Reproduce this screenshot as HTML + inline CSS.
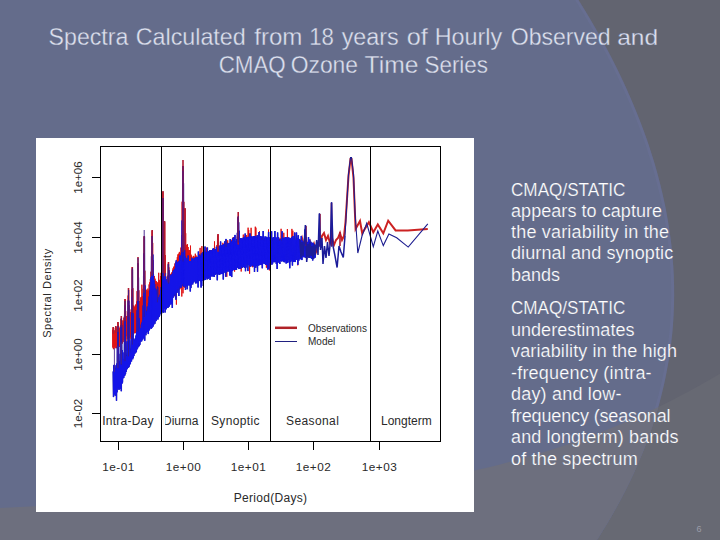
<!DOCTYPE html>
<html><head><meta charset="utf-8"><style>
html,body{margin:0;padding:0;width:720px;height:540px;overflow:hidden;background:#626470}
svg{display:block}
</style></head><body>
<svg width="720" height="540" viewBox="0 0 720 540">

<defs><clipPath id="ca"><path d="M-10.0,508.7 L0.0,508.1 L10.0,507.5 L20.0,507.0 L30.0,506.6 L40.0,506.1 L50.0,505.7 L60.0,505.3 L70.0,505.0 L80.0,504.6 L90.0,504.3 L100.0,504.0 L110.0,503.7 L120.0,503.4 L130.0,503.1 L140.0,502.8 L150.0,502.5 L160.0,502.2 L170.0,501.9 L180.0,501.6 L190.0,501.2 L200.0,500.8 L210.0,500.5 L220.0,500.0 L230.0,499.6 L240.0,499.1 L250.0,498.6 L260.0,498.0 L270.0,497.4 L280.0,496.8 L290.0,496.1 L300.0,495.4 L310.0,494.6 L320.0,493.7 L330.0,492.8 L340.0,491.8 L350.0,490.7 L360.0,489.6 L370.0,488.4 L380.0,487.1 L390.0,485.8 L400.0,484.3 L410.0,482.8 L420.0,481.1 L430.0,479.4 L440.0,477.6 L450.0,475.7 L460.0,473.7 L470.0,471.5 L480.0,469.3 L490.0,466.9 L500.0,464.4 L510.0,461.8 L520.0,459.1 L530.0,456.3 L540.0,453.3 L550.0,450.2 L560.0,446.9 L570.0,443.6 L580.0,440.0 L590.0,436.3 L600.0,432.5 L610.0,428.5 L620.0,424.4 L630.0,420.1 L640.0,415.6 L650.0,411.0 L660.0,406.2 L670.0,401.3 L680.0,396.1 L690.0,390.8 L700.0,385.3 L710.0,379.6 L720.0,373.7 L730.0,367.7 L730,550 L-10,550 Z"/></clipPath></defs>
<rect width="720" height="540" fill="#626470"/>
<path d="M-10.0,508.7 L0.0,508.1 L10.0,507.5 L20.0,507.0 L30.0,506.6 L40.0,506.1 L50.0,505.7 L60.0,505.3 L70.0,505.0 L80.0,504.6 L90.0,504.3 L100.0,504.0 L110.0,503.7 L120.0,503.4 L130.0,503.1 L140.0,502.8 L150.0,502.5 L160.0,502.2 L170.0,501.9 L180.0,501.6 L190.0,501.2 L200.0,500.8 L210.0,500.5 L220.0,500.0 L230.0,499.6 L240.0,499.1 L250.0,498.6 L260.0,498.0 L270.0,497.4 L280.0,496.8 L290.0,496.1 L300.0,495.4 L310.0,494.6 L320.0,493.7 L330.0,492.8 L340.0,491.8 L350.0,490.7 L360.0,489.6 L370.0,488.4 L380.0,487.1 L390.0,485.8 L400.0,484.3 L410.0,482.8 L420.0,481.1 L430.0,479.4 L440.0,477.6 L450.0,475.7 L460.0,473.7 L470.0,471.5 L480.0,469.3 L490.0,466.9 L500.0,464.4 L510.0,461.8 L520.0,459.1 L530.0,456.3 L540.0,453.3 L550.0,450.2 L560.0,446.9 L570.0,443.6 L580.0,440.0 L590.0,436.3 L600.0,432.5 L610.0,428.5 L620.0,424.4 L630.0,420.1 L640.0,415.6 L650.0,411.0 L660.0,406.2 L670.0,401.3 L680.0,396.1 L690.0,390.8 L700.0,385.3 L710.0,379.6 L720.0,373.7 L730.0,367.7 L730,550 L-10,550 Z" fill="#676973"/>
<path d="M-10,-10 L572.1,-10.0 L575.3,-5.0 L578.4,0.0 L581.5,5.0 L584.6,10.0 L587.6,15.0 L590.6,20.0 L593.5,25.0 L596.4,30.0 L599.2,35.0 L602.0,40.0 L604.7,45.0 L607.4,50.0 L610.0,55.0 L612.6,60.0 L615.1,65.0 L617.6,70.0 L620.0,75.0 L622.4,80.0 L624.7,85.0 L627.0,90.0 L629.2,95.0 L631.4,100.0 L633.5,105.0 L635.6,110.0 L637.6,115.0 L639.6,120.0 L641.5,125.0 L643.4,130.0 L645.2,135.0 L647.0,140.0 L648.7,145.0 L650.3,150.0 L651.9,155.0 L653.5,160.0 L655.0,165.0 L656.4,170.0 L657.8,175.0 L659.1,180.0 L660.4,185.0 L661.6,190.0 L662.8,195.0 L663.9,200.0 L665.0,205.0 L666.0,210.0 L666.9,215.0 L667.8,220.0 L668.6,225.0 L669.4,230.0 L670.1,235.0 L670.8,240.0 L671.4,245.0 L671.9,250.0 L672.4,255.0 L672.8,260.0 L673.2,265.0 L673.5,270.0 L673.8,275.0 L673.9,280.0 L674.1,285.0 L674.1,290.0 L674.2,295.0 L674.1,300.0 L674.0,305.0 L673.8,310.0 L673.6,315.0 L673.3,320.0 L673.0,325.0 L672.6,330.0 L672.1,335.0 L671.5,340.0 L671.0,345.0 L670.3,350.0 L669.6,355.0 L668.8,360.0 L667.9,365.0 L667.0,370.0 L666.0,375.0 L665.0,380.0 L663.9,385.0 L662.7,390.0 L661.5,395.0 L660.2,400.0 L658.9,405.0 L657.4,410.0 L655.9,415.0 L654.4,420.0 L652.8,425.0 L651.1,430.0 L649.3,435.0 L647.5,440.0 L645.6,445.0 L643.7,450.0 L641.6,455.0 L639.6,460.0 L637.4,465.0 L635.2,470.0 L632.9,475.0 L630.5,480.0 L628.1,485.0 L625.6,490.0 L623.0,495.0 L620.4,500.0 L617.7,505.0 L614.9,510.0 L612.1,515.0 L609.2,520.0 L606.2,525.0 L603.1,530.0 L600.0,535.0 L596.8,540.0 L593.6,545.0 L590.2,550.0 L-10,550 Z" fill="#646c8b"/>
<path d="M570.6,-10.0 L573.8,-5.0 L576.9,0.0 L580.0,5.0 L583.1,10.0 L586.1,15.0 L589.1,20.0 L592.0,25.0 L594.9,30.0 L597.7,35.0 L600.5,40.0 L603.2,45.0 L605.9,50.0 L608.5,55.0 L611.1,60.0 L613.6,65.0 L616.1,70.0 L618.5,75.0 L620.9,80.0 L623.2,85.0 L625.5,90.0 L627.7,95.0 L629.9,100.0 L632.0,105.0 L634.1,110.0 L636.1,115.0 L638.1,120.0 L640.0,125.0 L641.9,130.0 L643.7,135.0 L645.5,140.0 L647.2,145.0 L648.8,150.0 L650.4,155.0 L652.0,160.0 L653.5,165.0 L654.9,170.0 L656.3,175.0 L657.6,180.0 L658.9,185.0 L660.1,190.0 L661.3,195.0 L662.4,200.0 L663.5,205.0 L664.5,210.0 L665.4,215.0 L666.3,220.0 L667.1,225.0 L667.9,230.0 L668.6,235.0 L669.3,240.0 L669.9,245.0 L670.4,250.0 L670.9,255.0 L671.3,260.0 L671.7,265.0 L672.0,270.0 L672.3,275.0 L672.4,280.0 L672.6,285.0 L672.6,290.0 L672.7,295.0 L672.6,300.0 L672.5,305.0 L672.3,310.0 L672.1,315.0 L671.8,320.0 L671.5,325.0 L671.1,330.0 L670.6,335.0 L670.0,340.0 L669.5,345.0 L668.8,350.0 L668.1,355.0 L667.3,360.0 L666.4,365.0 L665.5,370.0 L664.5,375.0 L663.5,380.0 L662.4,385.0 L661.2,390.0 L660.0,395.0 L658.7,400.0 L657.4,405.0 L655.9,410.0 L654.4,415.0 L652.9,420.0 L651.3,425.0 L649.6,430.0 L647.8,435.0 L646.0,440.0 L644.1,445.0 L642.2,450.0 L640.1,455.0 L638.1,460.0 L635.9,465.0 L633.7,470.0 L631.4,475.0 L629.0,480.0 L626.6,485.0 L624.1,490.0 L621.5,495.0 L618.9,500.0 L616.2,505.0 L613.4,510.0 L610.6,515.0 L607.7,520.0 L604.7,525.0 L601.6,530.0 L598.5,535.0 L595.3,540.0 L592.1,545.0 L588.7,550.0" fill="none" stroke="#6a7298" stroke-width="3" opacity="0.45"/>
<path d="M-10,-10 L572.1,-10.0 L575.3,-5.0 L578.4,0.0 L581.5,5.0 L584.6,10.0 L587.6,15.0 L590.6,20.0 L593.5,25.0 L596.4,30.0 L599.2,35.0 L602.0,40.0 L604.7,45.0 L607.4,50.0 L610.0,55.0 L612.6,60.0 L615.1,65.0 L617.6,70.0 L620.0,75.0 L622.4,80.0 L624.7,85.0 L627.0,90.0 L629.2,95.0 L631.4,100.0 L633.5,105.0 L635.6,110.0 L637.6,115.0 L639.6,120.0 L641.5,125.0 L643.4,130.0 L645.2,135.0 L647.0,140.0 L648.7,145.0 L650.3,150.0 L651.9,155.0 L653.5,160.0 L655.0,165.0 L656.4,170.0 L657.8,175.0 L659.1,180.0 L660.4,185.0 L661.6,190.0 L662.8,195.0 L663.9,200.0 L665.0,205.0 L666.0,210.0 L666.9,215.0 L667.8,220.0 L668.6,225.0 L669.4,230.0 L670.1,235.0 L670.8,240.0 L671.4,245.0 L671.9,250.0 L672.4,255.0 L672.8,260.0 L673.2,265.0 L673.5,270.0 L673.8,275.0 L673.9,280.0 L674.1,285.0 L674.1,290.0 L674.2,295.0 L674.1,300.0 L674.0,305.0 L673.8,310.0 L673.6,315.0 L673.3,320.0 L673.0,325.0 L672.6,330.0 L672.1,335.0 L671.5,340.0 L671.0,345.0 L670.3,350.0 L669.6,355.0 L668.8,360.0 L667.9,365.0 L667.0,370.0 L666.0,375.0 L665.0,380.0 L663.9,385.0 L662.7,390.0 L661.5,395.0 L660.2,400.0 L658.9,405.0 L657.4,410.0 L655.9,415.0 L654.4,420.0 L652.8,425.0 L651.1,430.0 L649.3,435.0 L647.5,440.0 L645.6,445.0 L643.7,450.0 L641.6,455.0 L639.6,460.0 L637.4,465.0 L635.2,470.0 L632.9,475.0 L630.5,480.0 L628.1,485.0 L625.6,490.0 L623.0,495.0 L620.4,500.0 L617.7,505.0 L614.9,510.0 L612.1,515.0 L609.2,520.0 L606.2,525.0 L603.1,530.0 L600.0,535.0 L596.8,540.0 L593.6,545.0 L590.2,550.0 L-10,550 Z" fill="#6d6f7e" clip-path="url(#ca)"/>


<rect x="36" y="138" width="438" height="374" fill="#fff"/>
<path d="M112.50,329.7 112.80,347.6 113.10,327.4 113.40,349.2 113.70,328.0 114.00,348.1 114.30,330.3 114.60,347.5 114.90,331.1 115.20,346.3 115.50,326.8 115.80,348.2 116.10,326.7 116.40,348.2 116.70,328.9 117.00,344.7 117.30,327.5 117.60,346.2 117.90,322.1 118.20,347.3 118.50,324.8 118.80,346.9 119.10,327.6 119.40,346.7 119.70,328.7 120.00,344.3 120.30,326.4 120.60,341.4 120.90,318.9 121.20,341.6 121.50,316.5 121.80,343.4 122.10,320.3 122.40,343.5 122.70,323.5 123.00,341.8 123.30,320.7 123.60,340.1 123.90,317.6 124.20,342.1 124.50,307.9 124.80,338.5 125.10,299.4 125.40,344.4 125.70,311.0 126.00,350.6 126.30,316.3 126.60,336.2 126.90,316.1 127.20,339.3 127.50,312.1 127.80,338.5 128.10,295.5 128.40,337.8 128.70,290.0 129.00,343.7 129.30,305.3 129.60,338.0 129.90,312.9 130.20,336.8 130.50,312.1 130.80,338.9 131.10,309.4 131.40,332.8 131.70,289.4 132.00,335.6 132.30,267.0 132.60,334.3 132.90,288.1 133.20,335.2 133.50,305.6 133.80,334.0 134.10,307.4 134.40,333.0 134.70,306.5 135.00,332.9 135.30,305.2 135.60,333.1 135.90,304.3 136.20,332.2 136.50,301.5 136.80,332.9 137.10,291.1 137.40,331.3 137.70,263.7 138.00,330.7 138.30,263.6 138.60,330.4 138.90,290.3 139.20,330.5 139.50,301.2 139.80,330.8 140.10,301.7 140.40,328.8 140.70,297.5 141.00,326.7 141.30,296.8 141.60,336.6 141.90,284.7 142.20,326.1 142.50,296.1 142.80,327.1 143.10,288.8 143.40,328.2 143.70,257.5 144.00,326.1 144.30,237.1 144.60,326.4 144.90,270.7 145.20,326.4 145.50,290.0 145.80,325.6 146.10,292.0 146.40,333.0 146.70,289.7 147.00,324.7 147.30,290.9 147.60,324.3 147.90,288.6 148.20,324.0 148.50,290.6 148.80,329.5 149.10,284.4 149.40,321.5 149.70,282.3 150.00,321.5 150.30,279.1 150.60,320.2 150.90,271.7 151.20,320.7 151.50,251.4 151.80,318.9 152.10,230.6 152.40,319.4 152.70,242.9 153.00,318.2 153.30,260.2 153.60,318.3 153.90,276.0 154.20,315.5 154.50,276.0 154.80,316.5 155.10,278.7 155.40,314.8 155.70,281.0 156.00,314.2 156.30,281.1 156.60,316.0 156.90,282.7 157.20,315.4 157.50,282.5 157.80,314.7 158.10,283.7 158.40,312.2 158.70,272.8 159.00,312.3 159.30,280.4 159.60,312.5 159.90,279.8 160.20,312.2 160.50,276.0 160.80,311.1 161.10,272.8 161.40,309.7 161.70,264.6 162.00,309.3 162.30,230.8 162.60,309.8 162.90,192.1 163.20,306.6 163.50,214.7 163.80,308.5 164.10,241.5 164.40,306.4 164.70,222.1 165.00,306.4 165.30,255.1 165.60,304.4 165.90,276.5 166.20,301.8 166.50,281.4 166.80,303.5 167.10,279.3 167.40,304.2 167.70,275.6 168.00,302.4 168.30,263.6 168.60,298.9 168.90,267.3 169.20,301.8 169.50,277.1 169.80,301.5 170.10,275.6 170.40,296.6 170.70,274.1 171.00,297.6 171.30,273.3 171.60,298.7 171.90,272.2 172.20,296.4 172.50,269.8 172.80,294.7 173.10,268.2 173.40,296.9 173.70,266.8 174.00,295.3 174.30,266.3 174.60,296.2 174.90,263.5 175.20,293.2 175.50,262.1 175.80,294.6 176.10,262.4 176.40,304.6 176.70,259.9 177.00,291.3 177.30,257.2 177.60,290.4 177.90,254.4 178.20,287.5 178.50,254.2 178.80,290.0 179.10,252.7 179.40,288.6 179.70,251.9 180.00,289.2 180.30,253.2 180.60,286.5 180.90,247.6 181.20,286.5 181.50,235.3 181.80,296.5 182.10,201.7 182.40,285.6 182.70,166.0 183.00,293.3 183.30,166.0 183.60,283.7 183.90,201.8 184.20,284.9 184.50,223.5 184.80,287.8 185.10,208.8 185.40,282.3 185.70,233.2 186.00,283.1 186.30,244.7 186.60,283.5 186.90,246.9 187.20,283.1 187.50,244.2 187.80,282.5 188.10,247.0 188.40,281.9 188.70,250.3 189.00,278.2 189.30,250.0 189.60,279.8 189.90,253.4 190.20,280.9 190.50,245.6 190.80,286.6 191.10,254.7 191.40,278.8 191.70,255.9 192.00,279.5 192.30,257.5 192.60,279.3 192.90,259.8 193.20,278.5 193.50,255.9 193.80,278.3 194.10,258.0 194.40,277.7 194.70,256.7 195.00,274.8 195.30,253.7 195.60,276.3 195.90,255.3 196.20,277.1 196.50,256.6 196.80,277.4 197.10,257.6 197.40,276.9 197.70,256.8 198.00,275.6 198.30,256.7 198.60,280.1 198.90,254.3 199.20,275.8 199.50,254.2 199.80,275.4 200.10,247.9 200.40,277.4 200.70,255.4 201.00,281.0 201.30,253.8 201.60,275.4 201.90,246.1 202.20,274.2 202.50,253.6 202.80,274.7 203.10,253.4 203.40,272.9 203.70,252.8 204.00,273.3 204.30,253.0 204.60,273.9 204.90,250.4 205.20,274.3 205.50,252.7 205.80,274.0 206.10,253.4 206.40,269.4 206.70,247.6 207.00,271.7 207.30,252.2 207.60,273.4 207.90,252.6 208.20,272.3 208.50,252.1 208.80,272.8 209.10,252.0 209.40,271.2 209.70,251.8 210.00,272.3 210.30,250.6 210.60,271.7 210.90,250.6 211.20,270.9 211.50,250.1 211.80,272.0 212.10,250.1 212.40,271.5 212.70,251.9 213.00,269.2 213.30,251.7 213.60,270.1 213.90,250.8 214.20,270.9 214.50,241.4 214.80,271.2 215.10,249.7 215.40,271.0 215.70,249.8 216.00,271.1 216.30,250.0 216.60,270.3 216.90,245.1 217.20,268.7 217.50,235.7 217.80,269.9 218.10,234.4 218.40,270.0 218.70,245.5 219.00,268.1 219.30,248.3 219.60,268.9 219.90,249.7 220.20,267.8 220.50,247.4 220.80,267.6 221.10,248.1 221.40,268.9 221.70,249.2 222.00,268.5 222.30,247.2 222.60,268.6 222.90,242.8 223.20,267.6 223.50,248.4 223.80,267.8 224.10,248.7 224.40,266.2 224.70,249.0 225.00,267.5 225.30,245.4 225.60,266.8 225.90,243.0 226.20,264.4 226.50,245.3 226.80,276.8 227.10,244.8 227.40,266.3 227.70,240.3 228.00,266.5 228.30,245.0 228.60,267.4 228.90,248.9 229.20,267.0 229.50,244.5 229.80,266.2 230.10,245.1 230.40,267.0 230.70,246.9 231.00,266.4 231.30,240.7 231.60,263.8 231.90,239.8 232.20,266.7 232.50,247.5 232.80,265.7 233.10,237.1 233.40,266.4 233.70,238.1 234.00,265.8 234.30,242.6 234.60,271.6 234.90,243.7 235.20,264.3 235.50,241.6 235.80,265.1 236.10,244.7 236.40,265.7 236.70,241.0 237.00,265.5 237.30,236.6 237.60,264.5 237.90,216.9 238.20,263.2 238.50,216.8 238.80,264.3 239.10,236.1 239.40,264.6 239.70,240.4 240.00,263.1 240.30,240.8 240.60,262.9 240.90,241.8 241.20,271.5 241.50,241.7 241.80,264.0 242.10,240.4 242.40,264.1 242.70,243.4 243.00,264.0 243.30,234.6 243.60,260.5 243.90,239.9 244.20,262.9 244.50,240.0 244.80,262.4 245.10,235.9 245.40,258.9 245.70,241.0 246.00,262.7 246.30,235.1 246.60,261.2 246.90,240.1 247.20,263.0 247.50,239.3 247.80,263.3 248.10,227.7 248.40,260.2 248.70,230.0 249.00,262.4 249.30,239.7 249.60,273.7 249.90,233.5 250.20,262.6 250.50,236.0 250.80,262.0 251.10,227.8 251.40,262.5 251.70,239.4 252.00,262.6 252.30,240.7 252.60,267.2 252.90,237.9 253.20,259.5 253.50,239.6 253.80,262.2 254.10,238.4 254.40,260.3 254.70,239.5 255.00,258.3 255.30,226.7 255.60,261.2 255.90,227.7 256.20,261.7 256.50,240.0 256.80,262.2 257.10,239.0 257.40,261.0 257.70,238.3 258.00,261.3 258.30,237.8 258.60,260.6 258.90,240.4 259.20,260.7 259.50,231.2 259.80,261.8 260.10,238.8 260.40,259.8 260.70,239.4 261.00,261.3 261.30,239.7 261.60,261.7 261.90,239.4 262.20,261.0 262.50,241.0 262.80,260.4 263.10,238.7 263.40,260.7 263.70,241.2 264.00,260.1 264.30,238.7 264.60,259.5 264.90,240.3 265.20,258.5 265.50,238.6 265.80,259.7 266.10,239.7 266.40,267.7 266.70,240.4 267.00,260.2 267.30,240.6 267.60,257.9 267.90,241.3 268.20,258.6 268.50,229.5 268.80,260.2 269.10,239.2 269.40,270.4 269.70,239.5 270.00,259.7 270.30,241.3 270.60,259.9 270.90,243.0 271.20,258.0 271.50,241.7 271.80,259.8 272.10,240.9 272.55,260.7 273.00,239.5 273.45,259.3 273.90,239.6 274.35,259.8 274.80,238.8 275.25,260.2 275.70,239.2 276.15,260.1 276.60,239.8 277.05,258.6 277.50,234.4 277.95,258.4 278.40,239.8 278.85,258.6 279.30,238.7 279.75,256.2 280.20,238.3 280.65,259.5 281.10,228.8 281.55,256.6 282.00,240.9 282.45,257.2 282.90,238.1 283.35,259.4 283.80,232.8 284.25,257.0 284.70,238.3 285.15,258.5 285.60,238.1 286.05,258.9 286.50,238.8 286.95,259.0 287.40,229.0 287.85,257.3 288.30,239.8 288.75,258.8 289.20,240.3 289.65,258.2 290.10,238.5 290.55,258.5 291.00,237.8 291.45,255.9 291.90,228.9 292.35,259.0 292.80,230.7 293.25,256.6 293.70,239.5 294.15,258.3 294.60,240.0 295.05,258.3 295.50,240.5 295.95,256.4 296.40,241.2 296.85,255.5 297.30,240.2 297.75,265.3 298.20,239.2 298.65,255.6 299.10,239.3 299.55,254.2" stroke="#e01414" stroke-width="1" fill="none"/>
<path d="M300.0,244.0 L302.0,238.0 L304.0,246.0 L306.0,240.0 L308.0,248.0 L310.0,242.0 L312.0,250.0 L314.0,244.0 L316.0,252.0 L318.0,246.0 L320.0,244.0 L322.0,236.0 L324.0,233.0 L326.0,240.0 L328.0,236.0 L330.0,243.0 L332.0,238.0 L334.0,245.0 L336.0,240.0 L338.0,238.0 L340.0,233.0 L342.0,240.0 L344.0,236.0 L345.5,222.0 L348.5,176.0 L350.5,159.0 L351.5,159.0 L353.5,178.0 L355.6,229.0 L360.0,221.0 L362.2,233.3 L368.9,222.2 L373.3,232.2 L377.8,224.4 L383.3,233.3 L388.2,220.7 L395.6,230.4 L407.8,230.4 L427.8,228.9" stroke="#cc2222" stroke-width="2" fill="none" stroke-linejoin="miter"/>
<path d="M113.20,371.4 113.50,397.1 113.80,365.3 114.10,394.2 114.40,364.7 114.70,394.2 115.00,365.3 115.30,395.7 115.60,369.4 115.90,393.9 116.20,367.7 116.50,400.7 116.80,363.6 117.10,392.3 117.40,346.6 117.70,388.2 118.00,326.0 118.30,387.6 118.60,346.0 118.90,389.8 119.20,361.4 119.50,389.3 119.80,364.6 120.10,388.7 120.40,353.8 120.70,385.3 121.00,325.1 121.30,391.2 121.60,325.0 121.90,383.8 122.20,350.1 122.50,382.5 122.80,359.9 123.10,378.2 123.40,359.3 123.70,378.1 124.00,352.4 124.30,376.1 124.60,315.7 124.90,375.4 125.20,305.4 125.50,374.0 125.80,341.3 126.10,371.9 126.40,356.1 126.70,369.6 127.00,359.3 127.30,368.8 127.60,341.5 127.90,366.8 128.20,300.5 128.50,367.7 128.80,300.7 129.10,366.7 129.40,340.3 129.70,364.8 130.00,348.8 130.30,364.0 130.60,352.5 130.90,361.2 131.20,338.9 131.50,361.4 131.80,297.2 132.10,359.0 132.40,269.5 132.70,359.3 133.00,313.3 133.30,357.7 133.60,338.8 133.90,355.9 134.20,340.9 134.50,353.5 134.80,339.7 135.10,353.4 135.40,338.2 135.70,352.2 136.00,335.5 136.30,352.3 136.60,332.0 136.90,349.4 137.20,310.2 137.50,348.4 137.80,263.4 138.10,347.3 138.40,277.4 138.70,343.0 139.00,318.3 139.30,346.2 139.60,329.1 139.90,344.8 140.20,328.2 140.50,341.2 140.80,328.2 141.10,341.6 141.40,324.4 141.70,341.2 142.00,322.6 142.30,339.6 142.60,320.4 142.90,339.3 143.20,305.5 143.50,337.8 143.80,253.5 144.10,337.7 144.40,236.4 144.70,340.8 145.00,285.4 145.30,334.7 145.60,306.4 145.90,335.2 146.20,315.3 146.50,332.7 146.80,311.4 147.10,331.7 147.40,310.4 147.70,332.0 148.00,306.5 148.30,334.1 148.60,303.0 148.90,330.7 149.20,296.6 149.50,329.8 149.80,290.5 150.10,325.6 150.40,285.3 150.70,328.3 151.00,277.4 151.30,328.8 151.60,256.3 151.90,328.1 152.20,236.0 152.50,326.2 152.80,254.6 153.10,326.6 153.40,274.5 153.70,324.7 154.00,280.2 154.30,320.6 154.60,284.0 154.90,323.7 155.20,288.3 155.50,321.2 155.80,291.2 156.10,321.1 156.40,294.8 156.70,319.2 157.00,289.0 157.30,318.6 157.60,287.0 157.90,319.6 158.20,297.4 158.50,317.5 158.80,299.7 159.10,316.9 159.40,297.0 159.70,315.5 160.00,294.8 160.30,313.7 160.60,290.2 160.90,311.3 161.20,287.1 161.50,313.9 161.80,274.5 162.10,312.2 162.40,236.4 162.70,310.7 163.00,198.0 163.30,312.7 163.60,238.2 163.90,308.6 164.20,270.7 164.50,307.6 164.80,276.1 165.10,312.5 165.40,273.1 165.70,309.8 166.00,279.2 166.30,309.0 166.60,281.2 166.90,307.9 167.20,282.0 167.50,307.5 167.80,276.6 168.10,307.8 168.40,264.3 168.70,305.0 169.00,270.3 169.30,306.6 169.60,276.9 169.90,305.0 170.20,275.2 170.50,303.6 170.80,275.9 171.10,300.0 171.40,274.4 171.70,304.3 172.00,275.6 172.30,307.9 172.60,273.4 172.90,296.9 173.20,271.2 173.50,297.5 173.80,270.1 174.10,295.8 174.40,269.7 174.70,293.3 175.00,268.8 175.30,294.4 175.60,263.1 175.90,299.7 176.20,260.4 176.50,291.7 176.80,263.8 177.10,292.8 177.40,262.6 177.70,289.0 178.00,262.0 178.30,288.8 178.60,261.1 178.90,296.0 179.20,263.2 179.50,285.9 179.80,255.6 180.10,287.8 180.40,260.8 180.70,285.5 181.00,255.6 181.30,287.4 181.60,253.4 181.90,285.9 182.20,220.4 182.50,284.1 182.80,171.1 183.10,283.1 183.40,183.2 183.70,286.8 184.00,235.8 184.30,286.1 184.60,248.4 184.90,286.0 185.20,256.6 185.50,289.9 185.80,258.1 186.10,286.0 186.40,257.9 186.70,286.3 187.00,259.8 187.30,289.2 187.60,260.4 187.90,284.9 188.20,255.5 188.50,285.2 188.80,261.4 189.10,285.4 189.40,261.7 189.70,285.2 190.00,261.1 190.30,291.5 190.60,261.2 190.90,288.1 191.20,261.8 191.50,284.5 191.80,257.8 192.10,284.1 192.40,259.9 192.70,284.4 193.00,259.0 193.30,282.4 193.60,258.7 193.90,282.2 194.20,260.6 194.50,280.6 194.80,258.0 195.10,280.8 195.40,258.3 195.70,283.4 196.00,257.0 196.30,282.9 196.60,257.0 196.90,283.2 197.20,258.8 197.50,279.7 197.80,257.1 198.10,287.4 198.40,251.5 198.70,280.1 199.00,255.3 199.30,280.5 199.60,255.5 199.90,281.1 200.20,255.7 200.50,281.2 200.80,258.2 201.10,287.6 201.40,253.6 201.70,286.0 202.00,256.4 202.30,280.8 202.60,252.5 202.90,279.8 203.20,251.9 203.50,279.5 203.80,255.1 204.10,280.2 204.40,252.2 204.70,279.8 205.00,246.6 205.30,279.9 205.60,251.9 205.90,276.9 206.20,252.3 206.50,277.9 206.80,252.6 207.10,279.4 207.40,247.6 207.70,278.3 208.00,252.7 208.30,278.7 208.60,251.3 208.90,275.2 209.20,252.6 209.50,278.0 209.80,250.1 210.10,280.0 210.40,250.4 210.70,276.4 211.00,250.2 211.30,274.2 211.60,251.2 211.90,276.5 212.20,250.4 212.50,276.0 212.80,248.9 213.10,276.6 213.40,248.1 213.70,272.4 214.00,249.3 214.30,277.0 214.60,250.4 214.90,274.5 215.20,249.1 215.50,274.8 215.80,249.4 216.10,273.7 216.40,246.8 216.70,273.7 217.00,248.3 217.30,280.3 217.60,247.8 217.90,272.5 218.20,247.7 218.50,274.5 218.80,246.0 219.10,272.9 219.40,246.1 219.70,274.9 220.00,245.5 220.30,273.8 220.60,241.4 220.90,272.0 221.20,246.1 221.50,274.1 221.80,245.5 222.10,273.8 222.40,245.0 222.70,274.1 223.00,244.8 223.30,279.6 223.60,244.0 223.90,270.5 224.20,247.5 224.50,271.6 224.80,241.3 225.10,273.0 225.40,243.9 225.70,276.7 226.00,238.9 226.30,272.6 226.60,242.4 226.90,271.0 227.20,245.2 227.50,271.4 227.80,243.8 228.10,271.2 228.40,243.6 228.70,271.5 229.00,242.9 229.30,269.2 229.60,243.5 229.90,275.6 230.20,239.1 230.50,275.7 230.80,243.5 231.10,271.5 231.40,242.4 231.70,277.1 232.00,241.0 232.30,271.1 232.60,238.5 232.90,269.7 233.20,238.0 233.50,270.2 233.80,237.2 234.10,268.8 234.40,242.2 234.70,269.6 235.00,234.9 235.30,270.0 235.60,241.9 235.90,267.8 236.20,242.3 236.50,270.0 236.80,239.0 237.10,268.0 237.40,232.8 237.70,267.8 238.00,217.8 238.30,266.9 238.60,222.3 238.90,269.1 239.20,230.8 239.50,268.4 239.80,238.7 240.10,268.4 240.40,238.4 240.70,268.7 241.00,238.1 241.30,265.7 241.60,239.0 241.90,266.8 242.20,238.4 242.50,268.0 242.80,238.9 243.10,266.9 243.40,237.6 243.70,265.9 244.00,237.4 244.30,267.2 244.60,240.3 244.90,267.9 245.20,233.6 245.50,271.2 245.80,237.2 246.10,267.5 246.40,239.2 246.70,264.3 247.00,237.8 247.30,263.4 247.60,237.1 247.90,271.1 248.20,236.8 248.50,265.1 248.80,237.2 249.10,265.0 249.40,237.7 249.70,265.4 250.00,233.6 250.30,266.8 250.60,237.6 250.90,266.6 251.20,236.2 251.50,265.4 251.80,238.0 252.10,265.2 252.40,237.3 252.70,265.4 253.00,236.2 253.30,266.2 253.60,236.3 253.90,266.6 254.20,236.0 254.50,271.9 254.80,237.4 255.10,264.9 255.40,235.9 255.70,267.8 256.00,237.9 256.30,265.7 256.60,237.6 256.90,265.2 257.20,235.2 257.50,271.8 257.80,238.9 258.10,265.8 258.40,235.4 258.70,264.8 259.00,232.0 259.30,265.2 259.60,235.9 259.90,265.1 260.20,236.1 260.50,264.1 260.80,236.3 261.10,264.8 261.40,237.4 261.70,264.5 262.00,236.4 262.30,268.3 262.60,238.1 262.90,262.8 263.20,231.0 263.50,262.2 263.80,238.0 264.10,264.1 264.40,240.6 264.70,264.0 265.00,236.4 265.30,264.1 265.60,236.8 265.90,265.0 266.20,236.8 266.50,264.9 266.80,239.5 267.10,264.2 267.40,238.0 267.70,269.6 268.00,236.9 268.30,264.3 268.60,231.9 268.90,269.3 269.20,241.5 269.50,262.4 269.80,237.3 270.10,262.7 270.40,237.5 270.70,262.8 271.00,239.7 271.30,261.9 271.60,231.3 271.90,264.7 272.20,240.8 272.65,263.4 273.10,237.6 273.55,261.8 274.00,237.1 274.45,262.2 274.90,231.0 275.35,261.8 275.80,237.4 276.25,263.8 276.70,237.7 277.15,268.9 277.60,232.4 278.05,262.6 278.50,237.1 278.95,262.6 279.40,240.7 279.85,263.9 280.30,238.9 280.75,260.9 281.20,241.2 281.65,261.5 282.10,231.3 282.55,261.0 283.00,238.6 283.45,261.7 283.90,237.7 284.35,262.3 284.80,237.6 285.25,261.3 285.70,237.1 286.15,263.6 286.60,237.3 287.05,263.1 287.50,237.9 287.95,262.6 288.40,237.3 288.85,260.0 289.30,237.8 289.75,268.2 290.20,239.6 290.65,261.8 291.10,238.0 291.55,260.4 292.00,237.1 292.45,265.6 292.90,235.9 293.35,262.0 293.80,238.8 294.25,261.4 294.70,232.5 295.15,262.1 295.60,240.1 296.05,259.7 296.50,232.5 296.95,259.9 297.40,238.3 297.85,264.8 298.30,235.2 298.75,260.7 299.20,238.9 299.65,259.3 300.10,241.0 300.70,259.2 301.30,235.9 301.90,260.1 302.50,240.7 303.10,257.1 303.70,242.4 304.30,257.3 304.90,229.5 305.50,257.7 306.10,236.9 306.70,259.3 307.30,242.0 307.90,256.7 308.50,237.0 309.10,257.8 309.70,239.6 310.30,257.9 310.90,241.8 311.50,258.7 312.10,242.8 312.70,260.5 313.30,242.9 313.90,258.4 314.50,245.8 315.10,257.7 315.70,244.7" stroke="#1c1c9c" stroke-width="1.5" fill="none"/>
<path d="M113.20,371.4 113.50,397.1 113.80,365.3 114.10,394.2 114.40,364.7 114.70,394.2 115.00,365.3 115.30,395.7 115.60,369.4 115.90,393.9 116.20,367.7 116.50,400.7 116.80,363.6 117.10,392.3 117.40,346.6 117.70,388.2 118.00,326.0 118.30,387.6 118.60,346.0 118.90,389.8 119.20,361.4 119.50,389.3 119.80,364.6 120.10,388.7 120.40,353.8 120.70,385.3 121.00,325.1 121.30,391.2 121.60,325.0 121.90,383.8 122.20,350.1 122.50,382.5 122.80,359.9 123.10,378.2 123.40,359.3 123.70,378.1 124.00,352.4 124.30,376.1 124.60,315.7 124.90,375.4 125.20,305.4 125.50,374.0 125.80,341.3 126.10,371.9 126.40,356.1 126.70,369.6 127.00,359.3 127.30,368.8 127.60,341.5 127.90,366.8 128.20,300.5 128.50,367.7 128.80,300.7 129.10,366.7 129.40,340.3 129.70,364.8 130.00,348.8 130.30,364.0 130.60,352.5 130.90,361.2 131.20,338.9 131.50,361.4 131.80,297.2 132.10,359.0 132.40,269.5 132.70,359.3 133.00,313.3 133.30,357.7 133.60,338.8 133.90,355.9 134.20,340.9 134.50,353.5 134.80,339.7 135.10,353.4 135.40,338.2 135.70,352.2 136.00,335.5 136.30,352.3 136.60,332.0 136.90,349.4 137.20,310.2 137.50,348.4 137.80,263.4 138.10,347.3 138.40,277.4 138.70,343.0 139.00,318.3 139.30,346.2 139.60,329.1 139.90,344.8 140.20,328.2 140.50,341.2 140.80,328.2 141.10,341.6 141.40,324.4 141.70,341.2 142.00,322.6 142.30,339.6 142.60,320.4 142.90,339.3 143.20,305.5 143.50,337.8 143.80,253.5 144.10,337.7 144.40,236.4 144.70,340.8 145.00,285.4 145.30,334.7 145.60,306.4 145.90,335.2 146.20,315.3 146.50,332.7 146.80,311.4 147.10,331.7 147.40,310.4 147.70,332.0 148.00,306.5 148.30,334.1 148.60,303.0 148.90,330.7 149.20,296.6 149.50,329.8 149.80,290.5 150.10,325.6 150.40,285.3 150.70,328.3 151.00,277.4 151.30,328.8 151.60,256.3 151.90,328.1 152.20,236.0 152.50,326.2 152.80,254.6 153.10,326.6 153.40,274.5 153.70,324.7 154.00,280.2 154.30,320.6 154.60,284.0 154.90,323.7 155.20,288.3 155.50,321.2 155.80,291.2 156.10,321.1 156.40,294.8 156.70,319.2 157.00,289.0 157.30,318.6 157.60,287.0 157.90,319.6 158.20,297.4 158.50,317.5 158.80,299.7 159.10,316.9 159.40,297.0 159.70,315.5 160.00,294.8 160.30,313.7 160.60,290.2 160.90,311.3 161.20,287.1 161.50,313.9 161.80,274.5 162.10,312.2 162.40,236.4 162.70,310.7 163.00,198.0 163.30,312.7 163.60,238.2 163.90,308.6 164.20,270.7 164.50,307.6 164.80,276.1 165.10,312.5 165.40,273.1 165.70,309.8 166.00,279.2 166.30,309.0 166.60,281.2 166.90,307.9 167.20,282.0 167.50,307.5 167.80,276.6 168.10,307.8 168.40,264.3 168.70,305.0 169.00,270.3 169.30,306.6 169.60,276.9 169.90,305.0 170.20,275.2 170.50,303.6 170.80,275.9 171.10,300.0 171.40,274.4 171.70,304.3 172.00,275.6 172.30,307.9 172.60,273.4 172.90,296.9 173.20,271.2 173.50,297.5 173.80,270.1 174.10,295.8 174.40,269.7 174.70,293.3 175.00,268.8 175.30,294.4 175.60,263.1 175.90,299.7 176.20,260.4 176.50,291.7 176.80,263.8 177.10,292.8 177.40,262.6 177.70,289.0 178.00,262.0 178.30,288.8 178.60,261.1 178.90,296.0 179.20,263.2 179.50,285.9 179.80,255.6 180.10,287.8 180.40,260.8 180.70,285.5 181.00,255.6 181.30,287.4 181.60,253.4 181.90,285.9 182.20,220.4 182.50,284.1 182.80,171.1 183.10,283.1 183.40,183.2 183.70,286.8 184.00,235.8 184.30,286.1 184.60,248.4 184.90,286.0 185.20,256.6 185.50,289.9 185.80,258.1 186.10,286.0 186.40,257.9 186.70,286.3 187.00,259.8 187.30,289.2 187.60,260.4 187.90,284.9 188.20,255.5 188.50,285.2 188.80,261.4 189.10,285.4 189.40,261.7 189.70,285.2 190.00,261.1 190.30,291.5 190.60,261.2 190.90,288.1 191.20,261.8 191.50,284.5 191.80,257.8 192.10,284.1 192.40,259.9 192.70,284.4 193.00,259.0 193.30,282.4 193.60,258.7 193.90,282.2 194.20,260.6 194.50,280.6 194.80,258.0 195.10,280.8 195.40,258.3 195.70,283.4 196.00,257.0 196.30,282.9 196.60,257.0 196.90,283.2 197.20,258.8 197.50,279.7 197.80,257.1 198.10,287.4 198.40,251.5 198.70,280.1 199.00,255.3 199.30,280.5 199.60,255.5 199.90,281.1 200.20,255.7 200.50,281.2 200.80,258.2 201.10,287.6 201.40,253.6 201.70,286.0 202.00,256.4 202.30,280.8 202.60,252.5 202.90,279.8 203.20,251.9 203.50,279.5 203.80,255.1 204.10,280.2 204.40,252.2 204.70,279.8 205.00,246.6 205.30,279.9 205.60,251.9 205.90,276.9 206.20,252.3 206.50,277.9 206.80,252.6 207.10,279.4 207.40,247.6 207.70,278.3 208.00,252.7 208.30,278.7 208.60,251.3 208.90,275.2 209.20,252.6 209.50,278.0 209.80,250.1 210.10,280.0 210.40,250.4 210.70,276.4 211.00,250.2 211.30,274.2 211.60,251.2 211.90,276.5 212.20,250.4 212.50,276.0 212.80,248.9 213.10,276.6 213.40,248.1 213.70,272.4 214.00,249.3 214.30,277.0 214.60,250.4 214.90,274.5 215.20,249.1 215.50,274.8 215.80,249.4 216.10,273.7 216.40,246.8 216.70,273.7 217.00,248.3 217.30,280.3 217.60,247.8 217.90,272.5 218.20,247.7 218.50,274.5 218.80,246.0 219.10,272.9 219.40,246.1 219.70,274.9 220.00,245.5 220.30,273.8 220.60,241.4 220.90,272.0 221.20,246.1 221.50,274.1 221.80,245.5 222.10,273.8 222.40,245.0 222.70,274.1 223.00,244.8 223.30,279.6 223.60,244.0 223.90,270.5 224.20,247.5 224.50,271.6 224.80,241.3 225.10,273.0 225.40,243.9 225.70,276.7 226.00,238.9 226.30,272.6 226.60,242.4 226.90,271.0 227.20,245.2 227.50,271.4 227.80,243.8 228.10,271.2 228.40,243.6 228.70,271.5 229.00,242.9 229.30,269.2 229.60,243.5 229.90,275.6 230.20,239.1 230.50,275.7 230.80,243.5 231.10,271.5 231.40,242.4 231.70,277.1 232.00,241.0 232.30,271.1 232.60,238.5 232.90,269.7 233.20,238.0 233.50,270.2 233.80,237.2 234.10,268.8 234.40,242.2 234.70,269.6 235.00,234.9 235.30,270.0 235.60,241.9 235.90,267.8 236.20,242.3 236.50,270.0 236.80,239.0 237.10,268.0 237.40,232.8 237.70,267.8 238.00,217.8 238.30,266.9 238.60,222.3 238.90,269.1 239.20,230.8 239.50,268.4 239.80,238.7 240.10,268.4 240.40,238.4 240.70,268.7 241.00,238.1 241.30,265.7 241.60,239.0 241.90,266.8 242.20,238.4 242.50,268.0 242.80,238.9 243.10,266.9 243.40,237.6 243.70,265.9 244.00,237.4 244.30,267.2 244.60,240.3 244.90,267.9 245.20,233.6 245.50,271.2 245.80,237.2 246.10,267.5 246.40,239.2 246.70,264.3 247.00,237.8 247.30,263.4 247.60,237.1 247.90,271.1 248.20,236.8 248.50,265.1 248.80,237.2 249.10,265.0 249.40,237.7 249.70,265.4 250.00,233.6 250.30,266.8 250.60,237.6 250.90,266.6 251.20,236.2 251.50,265.4 251.80,238.0 252.10,265.2 252.40,237.3 252.70,265.4 253.00,236.2 253.30,266.2 253.60,236.3 253.90,266.6 254.20,236.0 254.50,271.9 254.80,237.4 255.10,264.9 255.40,235.9 255.70,267.8 256.00,237.9 256.30,265.7 256.60,237.6 256.90,265.2 257.20,235.2 257.50,271.8 257.80,238.9 258.10,265.8 258.40,235.4 258.70,264.8 259.00,232.0 259.30,265.2 259.60,235.9 259.90,265.1 260.20,236.1 260.50,264.1 260.80,236.3 261.10,264.8 261.40,237.4 261.70,264.5 262.00,236.4 262.30,268.3 262.60,238.1 262.90,262.8 263.20,231.0 263.50,262.2 263.80,238.0 264.10,264.1 264.40,240.6 264.70,264.0 265.00,236.4 265.30,264.1 265.60,236.8 265.90,265.0 266.20,236.8 266.50,264.9 266.80,239.5 267.10,264.2 267.40,238.0 267.70,269.6 268.00,236.9 268.30,264.3 268.60,231.9 268.90,269.3 269.20,241.5 269.50,262.4 269.80,237.3 270.10,262.7 270.40,237.5 270.70,262.8 271.00,239.7 271.30,261.9 271.60,231.3 271.90,264.7 272.20,240.8 272.65,263.4 273.10,237.6 273.55,261.8 274.00,237.1 274.45,262.2 274.90,231.0 275.35,261.8 275.80,237.4 276.25,263.8 276.70,237.7 277.15,268.9 277.60,232.4 278.05,262.6 278.50,237.1 278.95,262.6 279.40,240.7 279.85,263.9 280.30,238.9 280.75,260.9 281.20,241.2 281.65,261.5 282.10,231.3 282.55,261.0 283.00,238.6 283.45,261.7 283.90,237.7 284.35,262.3 284.80,237.6 285.25,261.3 285.70,237.1 286.15,263.6 286.60,237.3 287.05,263.1 287.50,237.9 287.95,262.6 288.40,237.3 288.85,260.0 289.30,237.8 289.75,268.2 290.20,239.6 290.65,261.8 291.10,238.0 291.55,260.4 292.00,237.1 292.45,265.6 292.90,235.9 293.35,262.0 293.80,238.8 294.25,261.4 294.70,232.5 295.15,262.1 295.60,240.1 296.05,259.7 296.50,232.5 296.95,259.9 297.40,238.3 297.85,264.8 298.30,235.2 298.75,260.7 299.20,238.9 299.65,259.3 300.10,241.0 300.70,259.2 301.30,235.9 301.90,260.1 302.50,240.7 303.10,257.1 303.70,242.4 304.30,257.3 304.90,229.5 305.50,257.7 306.10,236.9 306.70,259.3 307.30,242.0 307.90,256.7 308.50,237.0 309.10,257.8 309.70,239.6 310.30,257.9 310.90,241.8 311.50,258.7 312.10,242.8 312.70,260.5 313.30,242.9 313.90,258.4 314.50,245.8 315.10,257.7 315.70,244.7" stroke="#1414ea" stroke-width="0.8" fill="none"/>
<path d="M113.30,333.7L113.30,327.0M115.80,332.8L115.80,326.0M118.00,332.0L118.00,322.0M121.30,327.1L121.30,316.0M125.00,321.2L125.00,299.0M128.50,316.5L128.50,288.0M132.30,312.7L132.30,267.0M138.00,300.9L138.00,257.0M144.20,292.7L144.20,236.0M152.20,275.7L152.20,230.0M157.40,286.3L157.40,284.0M163.00,273.0L163.00,191.0M164.60,276.3L164.60,221.0M168.50,282.6L168.50,262.0M183.00,252.1L183.00,160.0M185.00,250.3L185.00,208.0M218.00,251.7L218.00,234.0M238.20,244.6L238.20,212.0M306.00,246.0L306.00,226.0M320.00,246.0L320.00,214.0M331.50,246.0L331.50,203.0M340.00,246.0L340.00,232.0" stroke="#b01830" stroke-width="1.6" fill="none"/>
<path d="M118.00,368.3L118.00,326.0M121.30,364.9L121.30,318.0M125.00,361.1L125.00,301.0M128.50,356.4L128.50,290.0M132.30,344.7L132.30,268.0M138.00,331.5L138.00,258.0M144.20,317.0L144.20,230.0M152.20,276.1L152.20,236.0M157.40,302.3L157.40,286.0M163.00,278.8L163.00,198.0M168.50,283.7L168.50,264.0M183.00,261.5L183.00,166.0M238.20,242.6L238.20,216.0M305.30,244.2L305.30,225.0M319.70,247.0L319.70,213.0M331.70,247.0L331.70,202.0M226.00,246.9L226.00,240.0M262.00,239.7L262.00,238.0" stroke="#3a1a88" stroke-width="0.9" fill="none"/>
<path d="M114.4,372V348 M117.8,368V346 M121.1,364V342" stroke="#4a2a90" stroke-width="0.9" fill="none"/>
<path d="M300.0,240.0 L301.0,258.0 L302.0,242.0 L303.0,256.0 L304.0,244.0 L305.5,225.0 L306.7,262.0 L308.0,244.0 L309.0,258.0 L310.0,242.0 L311.0,256.0 L312.0,246.0 L313.0,259.0 L314.0,244.0 L315.0,255.0 L316.7,240.0 L318.0,255.0 L319.3,213.4 L320.5,250.0 L322.0,238.0 L323.0,264.0 L324.5,246.0 L326.0,258.0 L327.5,242.0 L329.0,256.0 L330.5,240.0 L331.5,202.2 L333.0,246.0 L335.0,256.0 L337.1,267.5 L339.0,246.0 L341.0,252.0 L343.3,257.5 L345.0,236.0" stroke="#1c1c9a" stroke-width="1.5" fill="none"/>
<path d="M345.0,236.0 L348.5,174.0 L350.5,157.5 L351.5,157.5 L353.5,174.0 L355.0,212.0 L357.8,253.0 L362.0,236.0 L366.7,223.3 L373.3,246.7 L377.8,231.1 L383.3,245.6 L388.9,234.0 L396.7,237.8 L408.2,247.1 L427.8,223.8" stroke="#1c1c90" stroke-width="1.1" fill="none"/>
<g stroke="#000" stroke-width="1.3" fill="none" shape-rendering="crispEdges">
<rect x="100.5" y="146.5" width="340" height="295"/>
<path d="M161.5,146V441 M203.5,146V441 M270.5,146V441 M370.5,146V441"/>
<path d="M92,177.5H100 M92,237.5H100 M92,295.5H100 M92,354.5H100 M92,413.5H100"/>
<path d="M118.5,441V450 M183.5,441V450 M248.5,441V450 M313.5,441V450 M379.5,441V450"/>
</g>
<g font-family="Liberation Sans" font-size="11" fill="#2a2a2a">
<text transform="translate(81.7,177.5) rotate(-90)" text-anchor="middle" font-size="11.5">1e+06</text>
<text transform="translate(81.7,237.5) rotate(-90)" text-anchor="middle" font-size="11.5">1e+04</text>
<text transform="translate(81.7,295.5) rotate(-90)" text-anchor="middle" font-size="11.5">1e+02</text>
<text transform="translate(81.7,354.5) rotate(-90)" text-anchor="middle" font-size="11.5">1e+00</text>
<text transform="translate(81.7,413.5) rotate(-90)" text-anchor="middle" font-size="11.5">1e-02</text>
<text x="118.5" y="470.5" text-anchor="middle" font-size="11.8" letter-spacing="0.5">1e-01</text>
<text x="183.5" y="470.5" text-anchor="middle" font-size="11.8" letter-spacing="0.5">1e+00</text>
<text x="248.5" y="470.5" text-anchor="middle" font-size="11.8" letter-spacing="0.5">1e+01</text>
<text x="313.5" y="470.5" text-anchor="middle" font-size="11.8" letter-spacing="0.5">1e+02</text>
<text x="379.5" y="470.5" text-anchor="middle" font-size="11.8" letter-spacing="0.5">1e+03</text>
</g>
<g font-family="Liberation Sans" font-size="12" fill="#2a2a2a">
<text transform="translate(50.8,293) rotate(-90)" text-anchor="middle" font-size="11" letter-spacing="0.6">Spectral Density</text>
<text x="270.5" y="502" text-anchor="middle" letter-spacing="0.3">Period(Days)</text>
<text x="102.2" y="425" letter-spacing="0.25">Intra-Day</text>
<text x="163" y="425">Diurna</text>
<text x="211" y="425" letter-spacing="0.35">Synoptic</text>
<text x="286" y="425" letter-spacing="0.4">Seasonal</text>
<text x="381" y="425">Longterm</text>
</g>
<rect x="163.3" y="414.5" width="1.9" height="11" fill="#fff"/>
<path d="M275,327.8H297" stroke="#b02228" stroke-width="2.5"/>
<path d="M275,341.5H297" stroke="#202080" stroke-width="1"/>
<g font-family="Liberation Sans" font-size="10" fill="#2a2a2a">
<text x="308" y="332">Observations</text>
<text x="308" y="345">Model</text>
</g>


<g font-family="Liberation Sans" fill="#dde0ee" stroke="#646c8b" stroke-width="0.3">
<text transform="translate(48.59,44.5) scale(1.0064,1)" font-size="23">Spectra</text>
<text transform="translate(135.69,44.5) scale(1.0131,1)" font-size="23">Calculated</text>
<text transform="translate(254.20,44.5) scale(1.0489,1)" font-size="23">from</text>
<text transform="translate(309.17,44.5) scale(0.9652,1)" font-size="23">18</text>
<text transform="translate(341.70,44.5) scale(1.0143,1)" font-size="23">years</text>
<text transform="translate(406.70,44.5) scale(1.1000,1)" font-size="23">of</text>
<text transform="translate(434.67,44.5) scale(1.0154,1)" font-size="23">Hourly</text>
<text transform="translate(510.70,44.5) scale(1.0031,1)" font-size="23">Observed</text>
<text transform="translate(617.23,44.5) scale(1.0667,1)" font-size="23">and</text>

<text transform="translate(218.63,73) scale(0.9731,1)" font-size="23">CMAQ</text>
<text transform="translate(290.71,73) scale(0.9939,1)" font-size="23">Ozone</text>
<text transform="translate(364.60,73) scale(1.0714,1)" font-size="23">Time</text>
<text transform="translate(424.42,73) scale(0.9766,1)" font-size="23">Series</text>

</g>
<g font-family="Liberation Sans" font-size="18" fill="#ffffff" stroke="#646c8b" stroke-width="0.22">
<text x="511" y="196" textLength="114.5" lengthAdjust="spacingAndGlyphs">CMAQ/STATIC</text>
<text x="511" y="217" letter-spacing="0.06">appears to capture</text>
<text x="511" y="238" letter-spacing="0.19">the variability in the</text>
<text x="511" y="259" letter-spacing="0.11">diurnal and synoptic</text>
<text x="511" y="280.5">bands</text>
<text x="511" y="314" textLength="114.3" lengthAdjust="spacingAndGlyphs">CMAQ/STATIC</text>
<text x="511" y="335.5" letter-spacing="0.03">underestimates</text>
<text x="511" y="357" letter-spacing="0.13">variability in the high</text>
<text x="511" y="378.5" letter-spacing="0.21">-frequency (intra-</text>
<text x="511" y="400" letter-spacing="0.20">day) and low-</text>
<text x="511" y="421.5" letter-spacing="-0.14">frequency (seasonal</text>
<text x="511" y="443" letter-spacing="0.14">and longterm) bands</text>
<text x="511" y="465" letter-spacing="0.19">of the spectrum</text>
</g>
<text x="696.5" y="531.5" font-family="Liberation Sans" font-size="9" fill="#9a9ca8">6</text>

</svg>
</body></html>
